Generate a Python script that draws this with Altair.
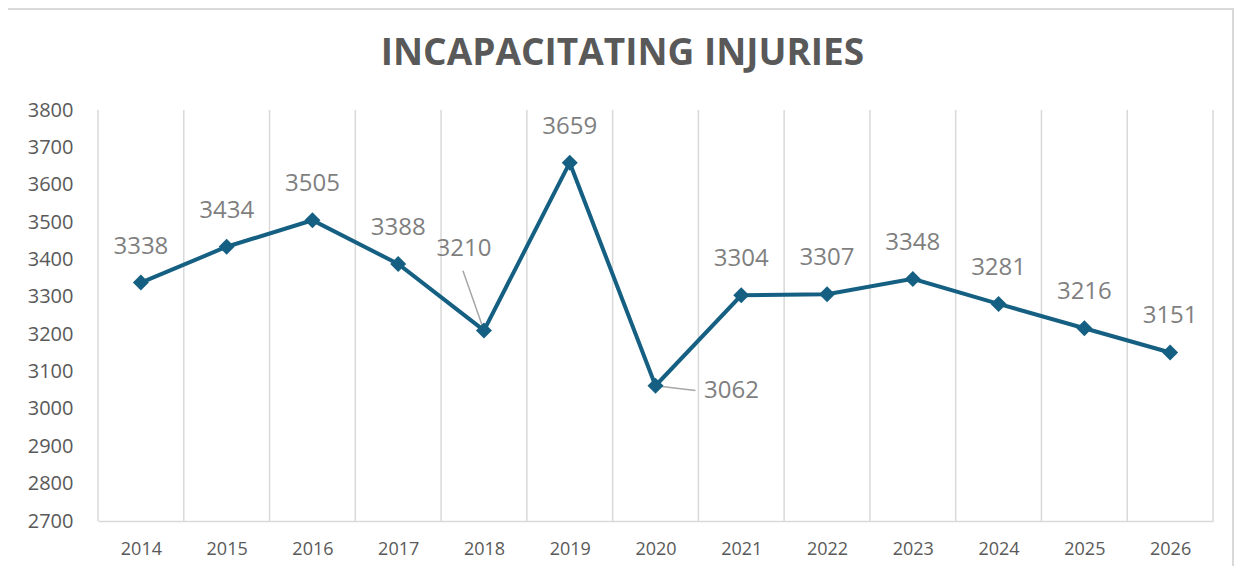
import altair as alt
import pandas as pd

years = [2014, 2015, 2016, 2017, 2018, 2019, 2020, 2021, 2022, 2023, 2024, 2025, 2026]
injuries = [3338, 3434, 3505, 3388, 3210, 3659, 3062, 3304, 3307, 3348, 3281, 3216, 3151]
y_ticks = list(range(2700, 3801, 100))

df = pd.DataFrame({"year": years, "injuries": injuries})
bounds = pd.DataFrame({"b": [y - 0.5 for y in years] + [years[-1] + 0.5]})

W, H = 1115, 411
LINE = "#156082"
GRID = "#d9d9d9"
TXT = "#595959"
LBL = "#7f7f7f"
FONT = "Open Sans"

xs = alt.Scale(domain=[years[0] - 0.5, years[-1] + 0.5], nice=False, zero=False)
ys = alt.Scale(domain=[2700, 3800], nice=False, zero=False)

x_axis = alt.Axis(values=years, format="d", ticks=False, grid=False, domainColor=GRID,
                  domainWidth=1.5, labelFontSize=18, labelColor=TXT, labelPadding=19,
                  labelFont=FONT, title=None, labelOverlap=False)
y_axis = alt.Axis(values=y_ticks, format="d", grid=False, domain=False, ticks=False, labelPadding=25,
                  labelFontSize=20, labelColor=TXT, labelFont=FONT, title=None, labelOverlap=False)

X = alt.X("year:Q", scale=xs, axis=x_axis)
Y = alt.Y("injuries:Q", scale=ys, axis=y_axis)

base = alt.Chart(df)

frame = alt.Chart(df).mark_rect(fill=None, stroke=GRID, strokeWidth=1.5).encode(
    x=alt.value(-92), x2=alt.value(W + 20), y=alt.value(-101), y2=alt.value(H + 60)
)

grid = alt.Chart(bounds).mark_rule(color=GRID, strokeWidth=1.5).encode(
    x=alt.X("b:Q", scale=xs, axis=x_axis), y=alt.value(0), y2=alt.value(H)
)

line = base.mark_line(color=LINE, strokeWidth=4).encode(x=X, y=Y)

leaders = base.transform_filter(
    "datum.year == 2018 || datum.year == 2020"
).transform_calculate(
    x2="datum.year == 2018 ? datum.year - 0.245 : datum.year + 0.466",
    y2="datum.year == 2018 ? datum.injuries + 160 : datum.injuries - 13",
).mark_rule(color="#a6a6a6", strokeWidth=1.5).encode(
    x=X, y=Y, x2="x2:Q", y2="y2:Q",
)

points = base.mark_point(shape="diamond", filled=True, size=256, opacity=1, color=LINE).encode(x=X, y=Y)

lbl_kw = dict(font=FONT, fontSize=24, color=LBL, align="center", baseline="middle")

labels = base.transform_filter(
    "datum.year != 2018 && datum.year != 2020"
).mark_text(dy=-36, **lbl_kw).encode(x=X, y=Y, text="injuries:Q")
label_2018 = base.transform_filter("datum.year == 2018").mark_text(dx=-20, dy=-81, **lbl_kw).encode(
    x=X, y=Y, text="injuries:Q"
)
label_2020 = base.transform_filter("datum.year == 2020").mark_text(dx=76, dy=5, **lbl_kw).encode(
    x=X, y=Y, text="injuries:Q"
)

chart = alt.layer(frame, grid, line, leaders, points, labels, label_2018, label_2020).properties(
    width=W, height=H,
    title=alt.TitleParams("INCAPACITATING INJURIES", fontSize=37, fontWeight="bold", color=TXT,
                          font=FONT, anchor="middle", dx=-33, offset=-65),
    autosize=alt.AutoSizeParams(type="none"),
    padding={"left": 90, "top": 102, "right": 22, "bottom": 45},
).configure_view(stroke=None)

chart.save("out.html", embed_options={"renderer": "svg", "actions": False})
